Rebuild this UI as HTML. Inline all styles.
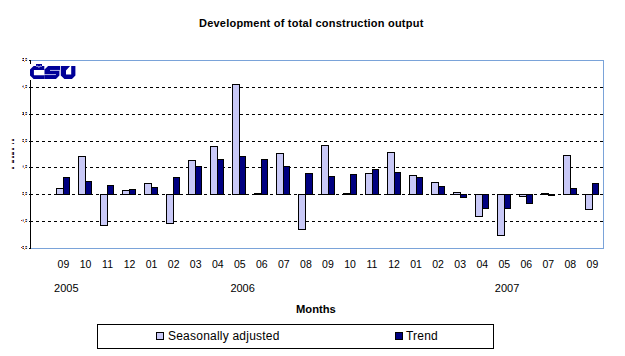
<!DOCTYPE html>
<html><head><meta charset="utf-8"><style>
html,body{margin:0;padding:0;background:#fff;}
body{width:625px;height:356px;overflow:hidden;position:relative;font-family:"Liberation Sans",sans-serif;color:#000;}
svg{position:absolute;left:0;top:0;}
.t{position:absolute;white-space:nowrap;line-height:1;}
</style></head><body>
<svg width="625" height="356" viewBox="0 0 625 356" shape-rendering="crispEdges">
<path d="M30 87.5H603" stroke="#000" stroke-width="1" stroke-dasharray="3 3"/>
<path d="M30 114.5H603" stroke="#000" stroke-width="1" stroke-dasharray="3 3"/>
<path d="M30 141.5H603" stroke="#000" stroke-width="1" stroke-dasharray="3 3"/>
<path d="M30 167.5H603" stroke="#000" stroke-width="1" stroke-dasharray="3 3"/>
<path d="M30 194.5H603" stroke="#000" stroke-width="1" stroke-dasharray="3 3"/>
<path d="M30 221.5H603" stroke="#000" stroke-width="1" stroke-dasharray="3 3"/>
<rect x="30" y="60" width="574" height="1" fill="#7aa3d9"/>
<rect x="603" y="60" width="1" height="189" fill="#7aa3d9"/>
<rect x="30" y="248" width="574" height="1" fill="#7aa3d9"/>
<rect x="30" y="60" width="1" height="189" fill="#000"/>
<rect x="29" y="60" width="1" height="1" fill="#000"/>
<rect x="29" y="87" width="1" height="1" fill="#000"/>
<rect x="29" y="114" width="1" height="1" fill="#000"/>
<rect x="29" y="141" width="1" height="1" fill="#000"/>
<rect x="29" y="167" width="1" height="1" fill="#000"/>
<rect x="29" y="194" width="1" height="1" fill="#000"/>
<rect x="29" y="221" width="1" height="1" fill="#000"/>
<rect x="29" y="248" width="1" height="1" fill="#000"/>
<rect x="56" y="188" width="8" height="7" fill="#000"/>
<rect x="57" y="189" width="6" height="5" fill="#c9c9f7"/>
<rect x="63" y="177" width="7" height="18" fill="#000"/>
<rect x="64" y="178" width="5" height="16" fill="#000080"/>
<rect x="78" y="156" width="8" height="39" fill="#000"/>
<rect x="79" y="157" width="6" height="37" fill="#c9c9f7"/>
<rect x="85" y="181" width="7" height="14" fill="#000"/>
<rect x="86" y="182" width="5" height="12" fill="#000080"/>
<rect x="100" y="194" width="8" height="32" fill="#000"/>
<rect x="101" y="195" width="6" height="30" fill="#c9c9f7"/>
<rect x="107" y="185" width="7" height="10" fill="#000"/>
<rect x="108" y="186" width="5" height="8" fill="#000080"/>
<rect x="122" y="190" width="8" height="5" fill="#000"/>
<rect x="123" y="191" width="6" height="3" fill="#c9c9f7"/>
<rect x="129" y="189" width="7" height="6" fill="#000"/>
<rect x="130" y="190" width="5" height="4" fill="#000080"/>
<rect x="144" y="183" width="8" height="12" fill="#000"/>
<rect x="145" y="184" width="6" height="10" fill="#c9c9f7"/>
<rect x="151" y="187" width="7" height="8" fill="#000"/>
<rect x="152" y="188" width="5" height="6" fill="#000080"/>
<rect x="166" y="194" width="8" height="30" fill="#000"/>
<rect x="167" y="195" width="6" height="28" fill="#c9c9f7"/>
<rect x="173" y="177" width="7" height="18" fill="#000"/>
<rect x="174" y="178" width="5" height="16" fill="#000080"/>
<rect x="188" y="160" width="8" height="35" fill="#000"/>
<rect x="189" y="161" width="6" height="33" fill="#c9c9f7"/>
<rect x="195" y="166" width="7" height="29" fill="#000"/>
<rect x="196" y="167" width="5" height="27" fill="#000080"/>
<rect x="210" y="146" width="8" height="49" fill="#000"/>
<rect x="211" y="147" width="6" height="47" fill="#c9c9f7"/>
<rect x="217" y="159" width="7" height="36" fill="#000"/>
<rect x="218" y="160" width="5" height="34" fill="#000080"/>
<rect x="232" y="84" width="8" height="111" fill="#000"/>
<rect x="233" y="85" width="6" height="109" fill="#c9c9f7"/>
<rect x="239" y="156" width="7" height="39" fill="#000"/>
<rect x="240" y="157" width="5" height="37" fill="#000080"/>
<rect x="254" y="193" width="8" height="2" fill="#000"/>
<rect x="261" y="159" width="7" height="36" fill="#000"/>
<rect x="262" y="160" width="5" height="34" fill="#000080"/>
<rect x="276" y="153" width="8" height="42" fill="#000"/>
<rect x="277" y="154" width="6" height="40" fill="#c9c9f7"/>
<rect x="283" y="166" width="7" height="29" fill="#000"/>
<rect x="284" y="167" width="5" height="27" fill="#000080"/>
<rect x="298" y="194" width="8" height="36" fill="#000"/>
<rect x="299" y="195" width="6" height="34" fill="#c9c9f7"/>
<rect x="305" y="173" width="8" height="22" fill="#000"/>
<rect x="306" y="174" width="6" height="20" fill="#000080"/>
<rect x="321" y="145" width="8" height="50" fill="#000"/>
<rect x="322" y="146" width="6" height="48" fill="#c9c9f7"/>
<rect x="328" y="176" width="7" height="19" fill="#000"/>
<rect x="329" y="177" width="5" height="17" fill="#000080"/>
<rect x="343" y="193" width="8" height="2" fill="#000"/>
<rect x="350" y="174" width="7" height="21" fill="#000"/>
<rect x="351" y="175" width="5" height="19" fill="#000080"/>
<rect x="365" y="173" width="8" height="22" fill="#000"/>
<rect x="366" y="174" width="6" height="20" fill="#c9c9f7"/>
<rect x="372" y="169" width="7" height="26" fill="#000"/>
<rect x="373" y="170" width="5" height="24" fill="#000080"/>
<rect x="387" y="152" width="8" height="43" fill="#000"/>
<rect x="388" y="153" width="6" height="41" fill="#c9c9f7"/>
<rect x="394" y="172" width="7" height="23" fill="#000"/>
<rect x="395" y="173" width="5" height="21" fill="#000080"/>
<rect x="409" y="175" width="8" height="20" fill="#000"/>
<rect x="410" y="176" width="6" height="18" fill="#c9c9f7"/>
<rect x="416" y="177" width="7" height="18" fill="#000"/>
<rect x="417" y="178" width="5" height="16" fill="#000080"/>
<rect x="431" y="182" width="8" height="13" fill="#000"/>
<rect x="432" y="183" width="6" height="11" fill="#c9c9f7"/>
<rect x="438" y="186" width="7" height="9" fill="#000"/>
<rect x="439" y="187" width="5" height="7" fill="#000080"/>
<rect x="453" y="192" width="8" height="3" fill="#000"/>
<rect x="454" y="193" width="6" height="1" fill="#c9c9f7"/>
<rect x="460" y="194" width="7" height="4" fill="#000"/>
<rect x="461" y="195" width="5" height="2" fill="#000080"/>
<rect x="475" y="194" width="8" height="23" fill="#000"/>
<rect x="476" y="195" width="6" height="21" fill="#c9c9f7"/>
<rect x="482" y="194" width="7" height="15" fill="#000"/>
<rect x="483" y="195" width="5" height="13" fill="#000080"/>
<rect x="497" y="194" width="8" height="42" fill="#000"/>
<rect x="498" y="195" width="6" height="40" fill="#c9c9f7"/>
<rect x="504" y="194" width="7" height="15" fill="#000"/>
<rect x="505" y="195" width="5" height="13" fill="#000080"/>
<rect x="519" y="194" width="8" height="3" fill="#000"/>
<rect x="520" y="195" width="6" height="1" fill="#c9c9f7"/>
<rect x="526" y="194" width="7" height="10" fill="#000"/>
<rect x="527" y="195" width="5" height="8" fill="#000080"/>
<rect x="541" y="193" width="8" height="2" fill="#000"/>
<rect x="548" y="194" width="7" height="2" fill="#000"/>
<rect x="563" y="155" width="8" height="40" fill="#000"/>
<rect x="564" y="156" width="6" height="38" fill="#c9c9f7"/>
<rect x="570" y="188" width="7" height="7" fill="#000"/>
<rect x="571" y="189" width="5" height="5" fill="#000080"/>
<rect x="585" y="194" width="8" height="16" fill="#000"/>
<rect x="586" y="195" width="6" height="14" fill="#c9c9f7"/>
<rect x="592" y="183" width="7" height="12" fill="#000"/>
<rect x="593" y="184" width="5" height="10" fill="#000080"/>
<rect x="29" y="64" width="49" height="16" fill="#fff"/>
<path d="M30 69.6 L33.6 66 L44.3 66 L44.3 70 L33.9 70 L33.9 75.2 L44.3 75.2 L44.3 79 L33.6 79 L30 75.4 Z M36 64.1 L42 64.1 L42 66.5 L36 66.5 Z M44.5 69.6 L48.1 66 L60 66 L60 70 L50 70 L50 70.8 L59.4 70.8 L59.4 75.6 L56 79 L44.5 79 L44.5 75 L55.8 75 L55.8 74.2 L44.5 74.2 Z M60.8 66 L75.4 66 L75.4 75.6 L72 79 L64.4 79 L60.8 75.6 Z M66 74.6 L71.2 74.6 L71.2 66 L70.1 66 L66 70.4 Z" fill="#000098" fill-rule="evenodd" shape-rendering="geometricPrecision"/>
<path d="M37 65.3 L38.9 67.7 L40.8 65.3" fill="none" stroke="#8c8cdc" stroke-width="1" shape-rendering="geometricPrecision"/>
<path d="M50 70.4H60 M44.5 74.6H55.8" fill="none" stroke="#a0a0e0" stroke-width="0.8" shape-rendering="geometricPrecision"/>
<rect x="22" y="58" width="1" height="1" fill="#c8801c"/>
<rect x="23" y="58" width="1" height="1" fill="#000070"/>
<rect x="22" y="59" width="1" height="1" fill="#c8f0f8"/>
<rect x="23" y="59" width="1" height="1" fill="#e8c8d4"/>
<rect x="22" y="60" width="1" height="1" fill="#a05a14"/>
<rect x="23" y="60" width="1" height="1" fill="#000070"/>
<rect x="25" y="58" width="1" height="1" fill="#c8801c"/>
<rect x="26" y="58" width="1" height="1" fill="#0a3c9c"/>
<rect x="25" y="59" width="1" height="1" fill="#e8c8d4"/>
<rect x="26" y="59" width="1" height="1" fill="#e8c8d4"/>
<rect x="25" y="60" width="1" height="1" fill="#c8801c"/>
<rect x="26" y="60" width="1" height="1" fill="#0a3c9c"/>
<rect x="24" y="61" width="1" height="1" fill="#f0a050"/>
<rect x="27" y="58" width="1" height="3" fill="#e0f8f8"/>
<rect x="22" y="85" width="1" height="1" fill="#f8f0d8"/>
<rect x="23" y="85" width="1" height="1" fill="#b8a8e8"/>
<rect x="22" y="86" width="1" height="1" fill="#c07040"/>
<rect x="23" y="86" width="1" height="1" fill="#50a0d0"/>
<rect x="22" y="87" width="1" height="1" fill="#f8f0d8"/>
<rect x="23" y="87" width="1" height="1" fill="#b8a8e8"/>
<rect x="25" y="85" width="1" height="1" fill="#c8801c"/>
<rect x="26" y="85" width="1" height="1" fill="#0a3c9c"/>
<rect x="25" y="86" width="1" height="1" fill="#e8c8d4"/>
<rect x="26" y="86" width="1" height="1" fill="#e8c8d4"/>
<rect x="25" y="87" width="1" height="1" fill="#c8801c"/>
<rect x="26" y="87" width="1" height="1" fill="#0a3c9c"/>
<rect x="24" y="88" width="1" height="1" fill="#f0a050"/>
<rect x="27" y="85" width="1" height="3" fill="#e0f8f8"/>
<rect x="22" y="112" width="1" height="1" fill="#c8801c"/>
<rect x="23" y="112" width="1" height="1" fill="#0a3c9c"/>
<rect x="22" y="113" width="1" height="1" fill="#f8ecc0"/>
<rect x="23" y="113" width="1" height="1" fill="#3050a0"/>
<rect x="22" y="114" width="1" height="1" fill="#a05a14"/>
<rect x="23" y="114" width="1" height="1" fill="#000070"/>
<rect x="25" y="112" width="1" height="1" fill="#c8801c"/>
<rect x="26" y="112" width="1" height="1" fill="#0a3c9c"/>
<rect x="25" y="113" width="1" height="1" fill="#e8c8d4"/>
<rect x="26" y="113" width="1" height="1" fill="#e8c8d4"/>
<rect x="25" y="114" width="1" height="1" fill="#c8801c"/>
<rect x="26" y="114" width="1" height="1" fill="#0a3c9c"/>
<rect x="24" y="115" width="1" height="1" fill="#f0a050"/>
<rect x="27" y="112" width="1" height="3" fill="#e0f8f8"/>
<rect x="22" y="139" width="1" height="1" fill="#c8801c"/>
<rect x="23" y="139" width="1" height="1" fill="#0a3c9c"/>
<rect x="22" y="140" width="1" height="1" fill="#e8c8d4"/>
<rect x="23" y="140" width="1" height="1" fill="#e8c8d4"/>
<rect x="22" y="141" width="1" height="1" fill="#c8801c"/>
<rect x="23" y="141" width="1" height="1" fill="#0a3c9c"/>
<rect x="25" y="139" width="1" height="1" fill="#c8801c"/>
<rect x="26" y="139" width="1" height="1" fill="#0a3c9c"/>
<rect x="25" y="140" width="1" height="1" fill="#e8c8d4"/>
<rect x="26" y="140" width="1" height="1" fill="#e8c8d4"/>
<rect x="25" y="141" width="1" height="1" fill="#c8801c"/>
<rect x="26" y="141" width="1" height="1" fill="#0a3c9c"/>
<rect x="24" y="142" width="1" height="1" fill="#f0a050"/>
<rect x="27" y="139" width="1" height="3" fill="#e0f8f8"/>
<rect x="22" y="165" width="1" height="1" fill="#f8ecc0"/>
<rect x="23" y="165" width="1" height="1" fill="#b8a8e8"/>
<rect x="22" y="166" width="1" height="1" fill="#f0b0a0"/>
<rect x="23" y="166" width="1" height="1" fill="#50a0d0"/>
<rect x="22" y="167" width="1" height="1" fill="#f8ecc0"/>
<rect x="23" y="167" width="1" height="1" fill="#b8a8e8"/>
<rect x="25" y="165" width="1" height="1" fill="#c8801c"/>
<rect x="26" y="165" width="1" height="1" fill="#0a3c9c"/>
<rect x="25" y="166" width="1" height="1" fill="#e8c8d4"/>
<rect x="26" y="166" width="1" height="1" fill="#e8c8d4"/>
<rect x="25" y="167" width="1" height="1" fill="#c8801c"/>
<rect x="26" y="167" width="1" height="1" fill="#0a3c9c"/>
<rect x="24" y="168" width="1" height="1" fill="#f0a050"/>
<rect x="27" y="165" width="1" height="3" fill="#e0f8f8"/>
<rect x="22" y="192" width="1" height="1" fill="#c8801c"/>
<rect x="23" y="192" width="1" height="1" fill="#0a3c9c"/>
<rect x="22" y="193" width="1" height="1" fill="#e8c8d4"/>
<rect x="23" y="193" width="1" height="1" fill="#e8c8d4"/>
<rect x="22" y="194" width="1" height="1" fill="#c8801c"/>
<rect x="23" y="194" width="1" height="1" fill="#0a3c9c"/>
<rect x="25" y="192" width="1" height="1" fill="#c8801c"/>
<rect x="26" y="192" width="1" height="1" fill="#0a3c9c"/>
<rect x="25" y="193" width="1" height="1" fill="#e8c8d4"/>
<rect x="26" y="193" width="1" height="1" fill="#e8c8d4"/>
<rect x="25" y="194" width="1" height="1" fill="#c8801c"/>
<rect x="26" y="194" width="1" height="1" fill="#0a3c9c"/>
<rect x="24" y="195" width="1" height="1" fill="#f0a050"/>
<rect x="27" y="192" width="1" height="3" fill="#e0f8f8"/>
<rect x="22" y="219" width="1" height="1" fill="#f8ecc0"/>
<rect x="23" y="219" width="1" height="1" fill="#b8a8e8"/>
<rect x="22" y="220" width="1" height="1" fill="#f0b0a0"/>
<rect x="23" y="220" width="1" height="1" fill="#50a0d0"/>
<rect x="22" y="221" width="1" height="1" fill="#f8ecc0"/>
<rect x="23" y="221" width="1" height="1" fill="#b8a8e8"/>
<rect x="25" y="219" width="1" height="1" fill="#c8801c"/>
<rect x="26" y="219" width="1" height="1" fill="#0a3c9c"/>
<rect x="25" y="220" width="1" height="1" fill="#e8c8d4"/>
<rect x="26" y="220" width="1" height="1" fill="#e8c8d4"/>
<rect x="25" y="221" width="1" height="1" fill="#c8801c"/>
<rect x="26" y="221" width="1" height="1" fill="#0a3c9c"/>
<rect x="24" y="222" width="1" height="1" fill="#f0a050"/>
<rect x="27" y="219" width="1" height="3" fill="#e0f8f8"/>
<rect x="21" y="220" width="1" height="1" fill="#a03838"/>
<rect x="22" y="246" width="1" height="1" fill="#c8801c"/>
<rect x="23" y="246" width="1" height="1" fill="#0a3c9c"/>
<rect x="22" y="247" width="1" height="1" fill="#e8c8d4"/>
<rect x="23" y="247" width="1" height="1" fill="#e8c8d4"/>
<rect x="22" y="248" width="1" height="1" fill="#c8801c"/>
<rect x="23" y="248" width="1" height="1" fill="#0a3c9c"/>
<rect x="25" y="246" width="1" height="1" fill="#c8801c"/>
<rect x="26" y="246" width="1" height="1" fill="#0a3c9c"/>
<rect x="25" y="247" width="1" height="1" fill="#e8c8d4"/>
<rect x="26" y="247" width="1" height="1" fill="#e8c8d4"/>
<rect x="25" y="248" width="1" height="1" fill="#c8801c"/>
<rect x="26" y="248" width="1" height="1" fill="#0a3c9c"/>
<rect x="24" y="249" width="1" height="1" fill="#f0a050"/>
<rect x="27" y="246" width="1" height="3" fill="#e0f8f8"/>
<rect x="21" y="247" width="1" height="1" fill="#a03838"/>
<rect x="12" y="139" width="1" height="2" fill="#9a6040"/>
<rect x="13" y="139" width="1" height="2" fill="#20206a"/>
<rect x="11" y="139" width="1" height="2" fill="#f4e0c0"/>
<rect x="14" y="139" width="1" height="2" fill="#c0e0f8"/>
<rect x="12" y="143" width="1" height="1" fill="#9a6040"/>
<rect x="13" y="143" width="1" height="1" fill="#20206a"/>
<rect x="11" y="143" width="1" height="1" fill="#f4e0c0"/>
<rect x="14" y="143" width="1" height="1" fill="#c0e0f8"/>
<rect x="12" y="148" width="1" height="2" fill="#9a6040"/>
<rect x="13" y="148" width="1" height="2" fill="#20206a"/>
<rect x="11" y="148" width="1" height="2" fill="#f4e0c0"/>
<rect x="14" y="148" width="1" height="2" fill="#c0e0f8"/>
<rect x="12" y="152" width="1" height="3" fill="#9a6040"/>
<rect x="13" y="152" width="1" height="3" fill="#20206a"/>
<rect x="11" y="152" width="1" height="3" fill="#f4e0c0"/>
<rect x="14" y="152" width="1" height="3" fill="#c0e0f8"/>
<rect x="12" y="156" width="1" height="2" fill="#9a6040"/>
<rect x="13" y="156" width="1" height="2" fill="#20206a"/>
<rect x="11" y="156" width="1" height="2" fill="#f4e0c0"/>
<rect x="14" y="156" width="1" height="2" fill="#c0e0f8"/>
<rect x="12" y="160" width="1" height="3" fill="#9a6040"/>
<rect x="13" y="160" width="1" height="3" fill="#20206a"/>
<rect x="11" y="160" width="1" height="3" fill="#f4e0c0"/>
<rect x="14" y="160" width="1" height="3" fill="#c0e0f8"/>
<rect x="12" y="167" width="1" height="2" fill="#9a6040"/>
<rect x="13" y="167" width="1" height="2" fill="#20206a"/>
<rect x="11" y="167" width="1" height="2" fill="#f4e0c0"/>
<rect x="14" y="167" width="1" height="2" fill="#c0e0f8"/>
</svg>
<div class="t" style="left:199px;top:18px;font-size:11px;letter-spacing:0.22px;font-weight:bold;">Development of total construction output</div>
<div class="t" style="left:48.46px;top:259px;width:30px;text-align:center;font-size:10.5px;">09</div>
<div class="t" style="left:70.50px;top:259px;width:30px;text-align:center;font-size:10.5px;">10</div>
<div class="t" style="left:92.54px;top:259px;width:30px;text-align:center;font-size:10.5px;">11</div>
<div class="t" style="left:114.58px;top:259px;width:30px;text-align:center;font-size:10.5px;">12</div>
<div class="t" style="left:136.62px;top:259px;width:30px;text-align:center;font-size:10.5px;">01</div>
<div class="t" style="left:158.66px;top:259px;width:30px;text-align:center;font-size:10.5px;">02</div>
<div class="t" style="left:180.70px;top:259px;width:30px;text-align:center;font-size:10.5px;">03</div>
<div class="t" style="left:202.74px;top:259px;width:30px;text-align:center;font-size:10.5px;">04</div>
<div class="t" style="left:224.78px;top:259px;width:30px;text-align:center;font-size:10.5px;">05</div>
<div class="t" style="left:246.82px;top:259px;width:30px;text-align:center;font-size:10.5px;">06</div>
<div class="t" style="left:268.86px;top:259px;width:30px;text-align:center;font-size:10.5px;">07</div>
<div class="t" style="left:290.90px;top:259px;width:30px;text-align:center;font-size:10.5px;">08</div>
<div class="t" style="left:312.94px;top:259px;width:30px;text-align:center;font-size:10.5px;">09</div>
<div class="t" style="left:334.98px;top:259px;width:30px;text-align:center;font-size:10.5px;">10</div>
<div class="t" style="left:357.02px;top:259px;width:30px;text-align:center;font-size:10.5px;">11</div>
<div class="t" style="left:379.06px;top:259px;width:30px;text-align:center;font-size:10.5px;">12</div>
<div class="t" style="left:401.10px;top:259px;width:30px;text-align:center;font-size:10.5px;">01</div>
<div class="t" style="left:423.14px;top:259px;width:30px;text-align:center;font-size:10.5px;">02</div>
<div class="t" style="left:445.18px;top:259px;width:30px;text-align:center;font-size:10.5px;">03</div>
<div class="t" style="left:467.22px;top:259px;width:30px;text-align:center;font-size:10.5px;">04</div>
<div class="t" style="left:489.26px;top:259px;width:30px;text-align:center;font-size:10.5px;">05</div>
<div class="t" style="left:511.30px;top:259px;width:30px;text-align:center;font-size:10.5px;">06</div>
<div class="t" style="left:533.34px;top:259px;width:30px;text-align:center;font-size:10.5px;">07</div>
<div class="t" style="left:555.38px;top:259px;width:30px;text-align:center;font-size:10.5px;">08</div>
<div class="t" style="left:577.42px;top:259px;width:30px;text-align:center;font-size:10.5px;">09</div>
<div class="t" style="left:54.06px;top:283px;font-size:11px;">2005</div>
<div class="t" style="left:230.38px;top:283px;font-size:11px;">2006</div>
<div class="t" style="left:494.86px;top:283px;font-size:11px;">2007</div>
<div class="t" style="left:296px;top:304px;font-size:11.2px;font-weight:bold;">Months</div>
<div style="position:absolute;left:97px;top:324px;width:395px;height:23px;border:1px solid #000;"></div>
<div style="position:absolute;left:156px;top:332px;width:6px;height:6px;border:1px solid #000;background:#c9c9f7;"></div>
<div class="t" style="left:168px;top:330px;font-size:12px;letter-spacing:0.22px;">Seasonally adjusted</div>
<div style="position:absolute;left:395px;top:332px;width:6px;height:6px;border:1px solid #000;background:#000080;"></div>
<div class="t" style="left:406px;top:330px;font-size:12px;letter-spacing:0.2px;">Trend</div>
</body></html>
